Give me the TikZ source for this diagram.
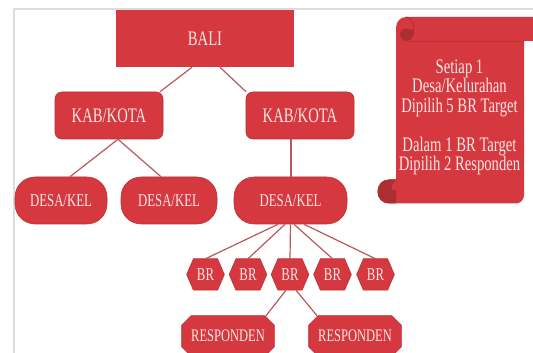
\documentclass[tikz,border=0pt]{standalone}
\usepackage{fontspec}
\setmainfont[FakeStretch=0.71]{Liberation Serif}
\usetikzlibrary{calc}
\definecolor{boxred}{HTML}{D5393F}
\definecolor{darkred}{HTML}{AC2E33}
\definecolor{linkred}{HTML}{B9575B}
\definecolor{paletext}{HTML}{FBE6E6}
\definecolor{framegrey}{HTML}{DCDCDC}
\newlength{\cutlen}
\makeatletter
\pgfdeclareshape{cutbox}{
  \inheritsavedanchors[from=rectangle]
  \inheritanchorborder[from=rectangle]
  \inheritanchor[from=rectangle]{center}
  \inheritanchor[from=rectangle]{north}
  \inheritanchor[from=rectangle]{south}
  \inheritanchor[from=rectangle]{east}
  \inheritanchor[from=rectangle]{west}
  \backgroundpath{
    \southwest \pgf@xa=\pgf@x \pgf@ya=\pgf@y
    \northeast \pgf@xb=\pgf@x \pgf@yb=\pgf@y
    \pgf@yc=\pgf@ya \advance\pgf@yc by \pgf@yb \divide\pgf@yc by 2
    \pgfpathmoveto{\pgfqpoint{\pgf@xa}{\pgf@yc}}
    \pgfmathsetlength{\cutlen}{\pgfkeysvalueof{/tikz/cut y}}
    \pgfmathsetlength{\pgf@xc}{\pgfkeysvalueof{/tikz/cut x}}
    \pgfpathlineto{\pgfqpoint{\pgf@xa}{\pgf@yc}}
    \pgfpathlineto{\pgfqpoint{\pgf@xa}{\dimexpr\pgf@yb-\cutlen\relax}}
    \pgfpathlineto{\pgfqpoint{\dimexpr\pgf@xa+\pgf@xc\relax}{\pgf@yb}}
    \pgfpathlineto{\pgfqpoint{\dimexpr\pgf@xb-\pgf@xc\relax}{\pgf@yb}}
    \pgfpathlineto{\pgfqpoint{\pgf@xb}{\dimexpr\pgf@yb-\cutlen\relax}}
    \pgfpathlineto{\pgfqpoint{\pgf@xb}{\dimexpr\pgf@ya+\cutlen\relax}}
    \pgfpathlineto{\pgfqpoint{\dimexpr\pgf@xb-\pgf@xc\relax}{\pgf@ya}}
    \pgfpathlineto{\pgfqpoint{\dimexpr\pgf@xa+\pgf@xc\relax}{\pgf@ya}}
    \pgfpathlineto{\pgfqpoint{\pgf@xa}{\dimexpr\pgf@ya+\cutlen\relax}}
    \pgfpathclose
  }
}
\makeatother
\tikzset{
  cut x/.initial=5pt, cut y/.initial=5pt,
  x=0.75pt,y=-0.75pt,
  base/.style={fill=boxred,draw=boxred!85!black,line width=0.4pt,text=paletext,inner sep=0pt,align=center},
  toprect/.style={base,draw=none,rectangle,minimum width=133.5pt,minimum height=42.75pt,font=\fontsize{15.5}{16}\selectfont},
  kab/.style={base,rectangle,rounded corners=5pt,minimum width=81pt,minimum height=35.25pt,font=\fontsize{15.5}{16}\selectfont},
  desa/.style={base,rectangle,rounded corners=15pt,minimum height=35.25pt,font=\fontsize{13.5}{14}\selectfont},
  brnode/.style={base,cutbox,cut x=5pt,cut y=11.6pt,minimum width=27.75pt,minimum height=23.2pt,font=\fontsize{13.5}{14}\selectfont},
  resp/.style={base,cutbox,cut x=7pt,cut y=7pt,minimum width=69pt,minimum height=30pt,font=\fontsize{13.2}{14}\selectfont},
  link/.style={draw=linkred,line width=0.9pt},
}
\begin{document}
\begin{tikzpicture}
\useasboundingbox (0,0) rectangle (533,353);
\clip (0,0) rectangle (533,353);
\draw[framegrey,line width=1.5pt] (14,353) -- (14,9) -- (533,9);

% nodes
\node[toprect] (bali) at (205,38.5) {BALI};
\node[kab] (kab1) at (109,115.5) {KAB/KOTA};
\node[kab] (kab2) at (300,115.5) {KAB/KOTA};
\node[desa,minimum width=69pt] (desa1) at (61,200.5) {DESA/KEL};
\node[desa,minimum width=72pt] (desa2) at (169,200.5) {DESA/KEL};
\node[desa,minimum width=84.75pt] (desa3) at (290.5,200.5) {DESA/KEL};
\node[brnode] (br1) at (205.5,274.5) {BR};
\node[brnode] (br2) at (248,274.5) {BR};
\node[brnode] (br3) at (290,274.5) {BR};
\node[brnode] (br4) at (332.5,274.5) {BR};
\node[brnode] (br5) at (375.5,274.5) {BR};
\node[resp] (resp1) at (228,336) {RESPONDEN};
\node[resp] (resp2) at (355,336) {RESPONDEN};

% connectors
\draw[link] ($(bali.south)+(-13,0)$) -- ($(kab1.north)+(51,0)$);
\draw[link] ($(bali.south)+(15,0)$) -- ($(kab2.north)+(-54,0)$);
\draw[link] ($(kab1.south)+(9,0)$) -- ($(desa1.north)+(9,0)$);
\draw[link] ($(kab1.south)+(9,0)$) -- ($(desa2.north)+(-8,0)$);
\draw[link] ($(kab2.south)+(-9,0)$) -- ($(desa3.north)+(0.5,0)$);
\draw[link] ($(desa3.south)+(-12.5,0)$) -- (br1.north);
\draw[link] ($(desa3.south)+(-5.5,0)$) -- (br2.north);
\draw[link] (desa3.south) -- (br3.north);
\draw[link] ($(desa3.south)+(3.5,0)$) -- (br4.north);
\draw[link] ($(desa3.south)+(13.5,0)$) -- (br5.north);
\draw[link] ($(br3.south)+(-4,0)$) -- ($(resp1.north)+(38,0)$);
\draw[link] ($(br3.south)+(6,0)$) -- ($(resp2.north)+(-38,0)$);

% scroll
\fill[boxred] (406,17) -- (533,17) -- (533,41) -- (524,41) -- (524,195)
  .. controls (524,200) and (520,203.5) .. (516,203.5) -- (389,203.5)
  .. controls (382,203.5) and (377.5,198) .. (377.5,191.5)
  .. controls (377.5,185) and (382,179.5) .. (389,179.5) -- (396,179.5) -- (396,28)
  .. controls (396,22) and (400,17) .. (406,17) -- cycle;
\draw[darkred!70!boxred,line width=0.7pt] (408,41) -- (524,41);
\fill[darkred] (407,41) .. controls (403,41) and (400,38) .. (400,34.5)
  .. controls (400,31) and (402,28.5) .. (406,28.5)
  .. controls (409,28.5) and (411,30) .. (414,30)
  .. controls (414,35) and (411,41) .. (407,41) -- cycle;
\draw[darkred,line width=0.6pt] (406,17) .. controls (411,17) and (414,23) .. (414,29)
  .. controls (414,35) and (411,41) .. (405,41);
\fill[darkred] (396,203.5) -- (389,203.5)
  .. controls (382,203.5) and (377.5,198) .. (377.5,191.5)
  .. controls (377.5,185) and (382,179.5) .. (389,179.5) -- (396,179.5) -- cycle;
\fill[boxred] (396,180) .. controls (393,182) and (391,187) .. (392,190) -- (396,190) -- cycle;

\node[text=paletext,align=center,inner sep=0pt,font=\fontsize{15.5}{14.6}\selectfont] (note) at (459.5,117.5)
  {Setiap 1\\Desa/Kelurahan\\Dipilih 5 BR Target\\\mbox{}\\Dalam 1 BR Target\\Dipilih 2 Responden};
\end{tikzpicture}
\end{document}
